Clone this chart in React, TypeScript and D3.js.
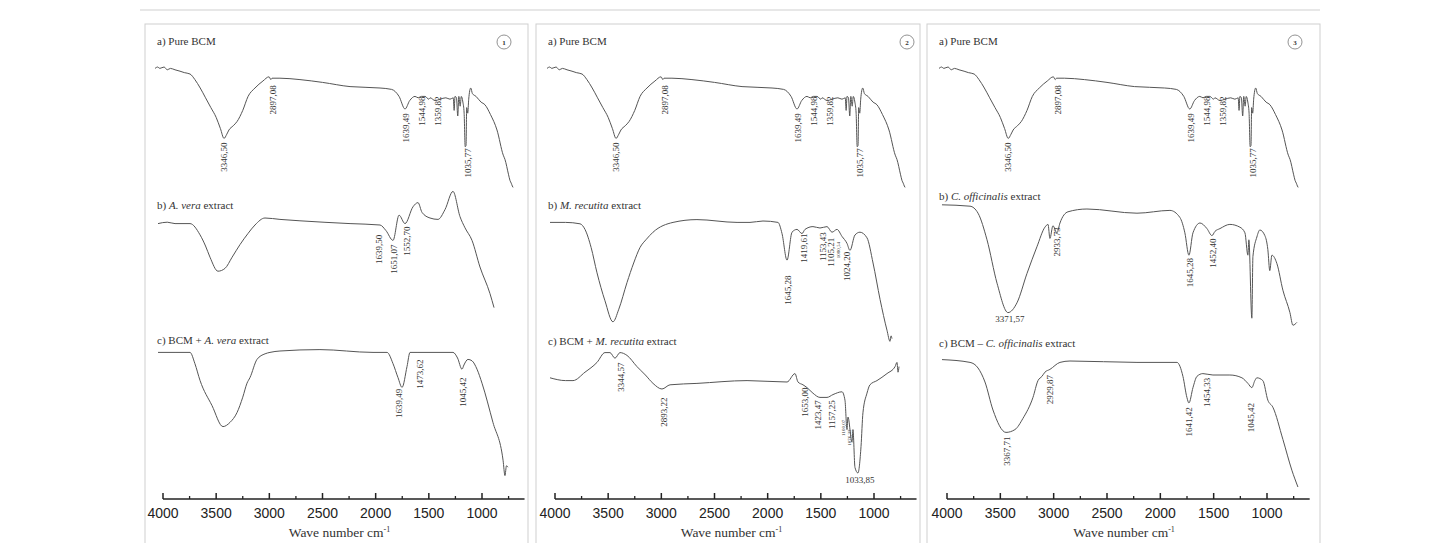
import React from "react";
import * as d3 from "d3";

// axis ticks (wave number, cm-1)
const majorTicks = [4000, 3500, 3000, 2500, 2000, 1500, 1000];
const minorTicks = [3750, 3250, 2750, 2250, 1750, 1250, 750];

// spectra: [wave number, relative transmittance]
const pureBcm = [
  [4075, 94], [4050, 95], [4030, 94], [3990, 95], [3960, 93], [3930, 94], [3887, 93],
  [3840, 92], [3800, 91], [3746, 90], [3700, 86], [3650, 80], [3600, 73], [3550, 66],
  [3500, 59], [3460, 51], [3426, 44], [3400, 47], [3380, 50], [3340, 53], [3304, 56],
  [3250, 64], [3200, 74], [3135, 80], [3060, 85], [3003, 88], [2985, 86], [2975, 87],
  [2900, 87], [2712, 86], [2500, 84], [2241, 81], [1959, 80], [1850, 79], [1780, 74],
  [1724, 65], [1680, 71], [1630, 74], [1600, 73], [1570, 74], [1536, 74], [1500, 72],
  [1489, 73], [1440, 71], [1395, 72], [1340, 73], [1301, 72], [1270, 73], [1262, 64],
  [1254, 74], [1240, 73], [1228, 60], [1218, 74], [1205, 67], [1195, 74], [1180, 70],
  [1168, 62], [1158, 38], [1150, 39], [1144, 66], [1134, 62], [1125, 72], [1106, 80],
  [1090, 76], [1056, 74], [1010, 70], [972, 68], [920, 61], [859, 50], [800, 32],
  [784, 29], [750, 18], [737, 14], [725, 12], [715, 10], [708, 9],
];

const aVera = [
  [4047, 76], [3960, 77], [3887, 76], [3746, 76], [3652, 68], [3600, 60], [3558, 52],
  [3483, 42], [3417, 44], [3350, 52], [3276, 61], [3200, 69], [3135, 75], [3041, 80],
  [2900, 79], [2712, 78], [2241, 76], [1959, 75], [1903, 71], [1837, 64], [1780, 82],
  [1724, 76], [1649, 88], [1602, 91], [1564, 84], [1489, 80], [1414, 79], [1348, 86],
  [1273, 99], [1207, 81], [1160, 73], [1094, 64], [1019, 45], [925, 26], [887, 16],
];

const bcmAVera = [
  [4047, 84], [3887, 84], [3746, 84], [3700, 76], [3652, 64], [3539, 46], [3436, 31],
  [3370, 34], [3304, 41], [3250, 52], [3210, 62], [3182, 66], [3116, 79], [3040, 83],
  [2994, 84], [2900, 85], [2524, 86], [2025, 84], [1893, 84], [1837, 76], [1790, 66],
  [1752, 59], [1705, 74], [1677, 84], [1611, 84], [1273, 84], [1230, 80], [1188, 72],
  [1170, 75], [1132, 79], [1094, 78], [1047, 72], [1000, 62], [897, 34], [802, 7],
  [784, -4], [770, 3], [756, 2],
];

const mRecutita = [
  [4047, 84], [3900, 84], [3765, 83], [3718, 79], [3660, 66], [3605, 48], [3530, 28],
  [3455, 13], [3400, 22], [3323, 41], [3260, 55], [3201, 66], [3140, 72], [3078, 77],
  [2890, 84], [2665, 86], [2288, 84], [2166, 84], [2044, 85], [1903, 84], [1865, 76],
  [1818, 57], [1771, 77], [1724, 79], [1677, 76], [1649, 79], [1574, 81], [1508, 80],
  [1442, 81], [1395, 77], [1348, 79], [1301, 74], [1254, 69], [1226, 64], [1179, 75],
  [1132, 77], [1066, 73], [1009, 55], [943, 29], [878, 7], [849, -1], [840, 3], [831, 1],
];

const bcmMRecutita = [
  [4047, 73], [3900, 71], [3831, 71], [3718, 77], [3605, 84], [3530, 91], [3483, 91],
  [3436, 87], [3389, 91], [3323, 89], [3229, 81], [3150, 75], [3078, 69], [2994, 65],
  [2918, 68], [2665, 69], [2194, 71], [1818, 70], [1743, 76], [1715, 70], [1668, 68],
  [1630, 66], [1574, 62], [1508, 59], [1442, 59], [1386, 61], [1301, 63], [1273, 57],
  [1254, 36], [1245, 45], [1207, 27], [1198, 36], [1179, 9], [1151, 5], [1122, 24],
  [1104, 48], [1066, 62], [1038, 68], [972, 71], [878, 76], [802, 81], [784, 84],
  [774, 77], [765, 81],
];

const cOfficinalis = [
  [4047, 93], [3784, 92], [3709, 87], [3625, 68], [3531, 37], [3428, 16], [3344, 23],
  [3250, 44], [3157, 63], [3082, 77], [3053, 79], [3035, 69], [3007, 78], [2969, 73],
  [2941, 80], [2866, 88], [2688, 90], [2219, 87], [1910, 89], [1817, 84], [1770, 73],
  [1732, 57], [1694, 73], [1628, 80], [1563, 76], [1516, 71], [1488, 74], [1441, 76],
  [1348, 79], [1254, 77], [1207, 73], [1179, 57], [1170, 68], [1142, 12], [1132, 56],
  [1095, 70], [1067, 75], [1020, 71], [992, 61], [974, 46], [954, 57], [907, 51],
  [851, 32], [785, 16], [757, 7], [720, 9],
];

const bcmCOfficinalis = [
  [4047, 86], [3784, 84], [3709, 80], [3644, 70], [3569, 50], [3447, 34], [3363, 36],
  [3288, 44], [3194, 59], [3147, 71], [3110, 74], [3082, 77], [3035, 79], [2941, 84],
  [2847, 85], [2219, 84], [1844, 84], [1788, 74], [1751, 59], [1732, 55], [1694, 66],
  [1657, 74], [1601, 76], [1507, 75], [1348, 75], [1235, 73], [1179, 69], [1142, 66],
  [1114, 71], [1095, 73], [1039, 71], [992, 57], [945, 52], [851, 29], [767, 7], [710, -5],
];

// peak labels: text, wave number on the axis, transmittance where label ends
const pureBcmPeaks = [
  { text: "3346,50", wn: 3426, t: 41 },
  { text: "2897,08", wn: 2965, t: 82 },
  { text: "1639,49", wn: 1715, t: 62 },
  { text: "1544,98", wn: 1564, t: 74 },
  { text: "1359,82", wn: 1414, t: 74 },
  { text: "1035,77", wn: 1132, t: 37 },
];
const aVeraPeaks = [
  { text: "1639,50", wn: 1969, t: 68 },
  { text: "1651,07", wn: 1828, t: 61 },
  { text: "1552,70", wn: 1705, t: 74 },
];
const bcmAVeraPeaks = [
  { text: "1639,49", wn: 1785, t: 58 },
  { text: "1473,62", wn: 1583, t: 79 },
  { text: "1045,42", wn: 1179, t: 66 },
];
const mRecutitaPeaks = [
  { text: "1645,28", wn: 1809, t: 46 },
  { text: "1419,61", wn: 1658, t: 76 },
  { text: "1153,43", wn: 1480, t: 77 },
  { text: "1105,21", wn: 1404, t: 73 },
  { text: "1080,54", wn: 1338, t: 70, small: true },
  { text: "1024,20", wn: 1254, t: 63 },
];
const bcmMRecutitaPeaks = [
  { text: "3344,57", wn: 3379, t: 84 },
  { text: "2893,22", wn: 2975, t: 59 },
  { text: "1653,00", wn: 1649, t: 66 },
  { text: "1423,47", wn: 1527, t: 57 },
  { text: "1157,25", wn: 1395, t: 57 },
  { text: "1100,07", wn: 1291, t: 43, small: true },
  { text: "1076,33", wn: 1235, t: 36, small: true },
  { text: "1033,85", wn: 1132, t: -2, flat: true },
];
const cOfficinalisPeaks = [
  { text: "2933,73", wn: 2969, t: 77 },
  { text: "3371,57", wn: 3410, t: 9, flat: true },
  { text: "1645,28", wn: 1723, t: 55 },
  { text: "1452,40", wn: 1507, t: 69 },
];
const bcmCOfficinalisPeaks = [
  { text: "2929,87", wn: 3035, t: 75 },
  { text: "3367,71", wn: 3438, t: 31 },
  { text: "1641,42", wn: 1732, t: 52 },
  { text: "1454,33", wn: 1563, t: 73 },
  { text: "1045,42", wn: 1151, t: 55 },
];

const panels = [
  {
    n: "1", frame: [145, 528], axis: [163, 482], circle: 504,
    rows: [
      { title: [["a) Pure BCM", false]], data: pureBcm, peaks: pureBcmPeaks, top: 60, ty: 45 },
      { title: [["b) ", false], ["A. vera", true], [" extract", false]], data: aVera, peaks: aVeraPeaks, top: 190, ty: 209 },
      { title: [["c) BCM + ", false], ["A. vera", true], [" extract", false]], data: bcmAVera, peaks: bcmAVeraPeaks, top: 330, ty: 344 },
    ],
  },
  {
    n: "2", frame: [536, 920], axis: [555, 874], circle: 907,
    rows: [
      { title: [["a) Pure BCM", false]], data: pureBcm, peaks: pureBcmPeaks, top: 60, ty: 45 },
      { title: [["b) ", false], ["M. recutita", true], [" extract", false]], data: mRecutita, peaks: mRecutitaPeaks, top: 200, ty: 209 },
      { title: [["c) BCM + ", false], ["M. recutita", true], [" extract", false]], data: bcmMRecutita, peaks: bcmMRecutitaPeaks, top: 340, ty: 345 },
    ],
  },
  {
    n: "3", frame: [927, 1320], axis: [947, 1267], circle: 1295,
    rows: [
      { title: [["a) Pure BCM", false]], data: pureBcm, peaks: pureBcmPeaks, top: 60, ty: 45 },
      { title: [["b) ", false], ["C. officinalis", true], [" extract", false]], data: cOfficinalis, peaks: cOfficinalisPeaks, top: 195, ty: 200 },
      { title: [["c) BCM \u2013 ", false], ["C. officinalis", true], [" extract", false]], data: bcmCOfficinalis, peaks: bcmCOfficinalisPeaks, top: 340, ty: 347 },
    ],
  },
];

const serif = "'Liberation Serif', 'Times New Roman', serif";
const sans = "'Liberation Sans', Arial, sans-serif";
const axisY = 499;

const Spectrum = ({ x, row, x0 }) => {
  const y = d3.scaleLinear().domain([0, 100]).range([row.top + 140, row.top]);
  const line = d3
    .line()
    .x((d) => x(d[0]))
    .y((d) => y(d[1]))
    .curve(d3.curveMonotoneX);
  return (
    <g>
      <text x={x0 + 12} y={row.ty} fontFamily={serif} fontSize={11} fill="#333">
        {row.title.map(([t, it], i) => (
          <tspan key={i} fontStyle={it ? "italic" : "normal"}>
            {t}
          </tspan>
        ))}
      </text>
      <path d={line(row.data)} fill="none" stroke="#555" strokeWidth={1} />
      {row.peaks.map((p) =>
        p.flat ? (
          <text
            key={p.text}
            x={x(p.wn)}
            y={y(p.t)}
            textAnchor="middle"
            fontFamily={serif}
            fontSize={9}
            fill="#333"
          >
            {p.text}
          </text>
        ) : (
          <text
            key={p.text}
            transform={`translate(${x(p.wn)},${y(p.t)}) rotate(-90)`}
            textAnchor="end"
            dy="0.35em"
            fontFamily={serif}
            fontSize={p.small ? 5 : 9}
            fill="#333"
          >
            {p.text}
          </text>
        )
      )}
    </g>
  );
};

const Panel = ({ panel }) => {
  const x = d3.scaleLinear().domain([4000, 1000]).range(panel.axis);
  return (
    <g>
      <rect
        x={panel.frame[0]}
        y={24}
        width={panel.frame[1] - panel.frame[0]}
        height={540}
        fill="#fff"
        stroke="#cfcfcf"
        strokeWidth={1}
      />
      <circle cx={panel.circle} cy={42} r={7} fill="none" stroke="#777" strokeWidth={0.8} />
      <text x={panel.circle} y={44.5} textAnchor="middle" fontFamily={serif} fontSize={7} fontWeight="bold" fill="#333">
        {panel.n}
      </text>
      {panel.rows.map((row, i) => (
        <Spectrum key={i} x={x} row={row} x0={panel.frame[0]} />
      ))}
      {/* Axis */}
      <line x1={x(4000)} x2={x(600)} y1={axisY} y2={axisY} stroke="#222" strokeWidth={1.5} />
      {majorTicks.map((t) => (
        <g key={t}>
          <line x1={x(t)} x2={x(t)} y1={axisY} y2={axisY - 6} stroke="#222" strokeWidth={1.5} />
          <text x={x(t)} y={518} textAnchor="middle" fontFamily={sans} fontSize={14} fill="#222">
            {t}
          </text>
        </g>
      ))}
      {minorTicks.map((t) => (
        <line key={t} x1={x(t)} x2={x(t)} y1={axisY} y2={axisY - 3} stroke="#222" strokeWidth={1.3} />
      ))}
      <text x={x(2340)} y={537} textAnchor="middle" fontFamily={serif} fontSize={13.5} fill="#333">
        Wave number cm
        <tspan dy={-5} fontSize={8}>
          -1
        </tspan>
      </text>
    </g>
  );
};

export default function App() {
  return (
    <svg
      width={1436}
      height={543}
      style={{ position: "absolute", left: 0, top: 0, background: "#fff" }}
    >
      <line x1={140} x2={1320} y1={10} y2={10} stroke="#cfcfcf" strokeWidth={1} />
      {panels.map((p) => (
        <Panel key={p.n} panel={p} />
      ))}
    </svg>
  );
}
